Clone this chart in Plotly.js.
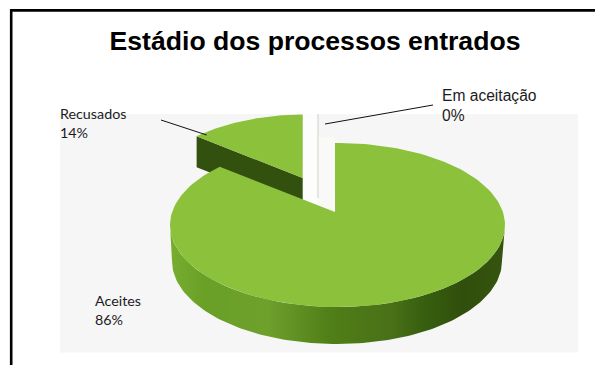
<!DOCTYPE html>
<html>
<head>
<meta charset="utf-8">
<script src="https://cdn.plot.ly/plotly-3.0.1.min.js"></script>
<style>html,body{margin:0;padding:0;background:#fff}#chart{width:595px;height:365px}</style>
</head>
<body>
<div id="chart"></div>
<script>
// Shares of incoming cases, in percent
const categories = ["Aceites", "Recusados", "Em aceitação"];
const shares = [86, 14, 0];

// Tilted disc: one axis unit equals one pixel
const face = {cx: 337.5, cy: 225, rx: 167.5, ry: 82};
const base = {cx: 337, cy: 261, rx: 165, ry: 83};
const apex = {x: 335, y: 212};
const tilt = 0.475;              // foreshortening of slice directions
const pulled = {dx: -32.3, dy: -34, scale: 0.92, depth: 31};  // the exploded slice
const gapLineX = 318;

const GREEN = "#8bc13b", DARK = "#33510e";

const total = shares.reduce((a, b) => a + b, 0);
const startOf = i => shares.slice(0, i).reduce((a, b) => a + b, 0) / total * 2 * Math.PI;

// Point where the ray from the apex at clockwise angle t leaves the face ellipse
function rim(t) {
  const dx = Math.sin(t), dy = -tilt * Math.cos(t);
  const ox = apex.x - face.cx, oy = apex.y - face.cy;
  const a = dx * dx / face.rx ** 2 + dy * dy / face.ry ** 2;
  const b = 2 * (ox * dx / face.rx ** 2 + oy * dy / face.ry ** 2);
  const c = ox * ox / face.rx ** 2 + oy * oy / face.ry ** 2 - 1;
  const s = (-b + Math.sqrt(b * b - 4 * a * c)) / (2 * a);
  return [apex.x + s * dx, apex.y + s * dy];
}
function arc(t0, t1, n) {
  const pts = [];
  for (let i = 0; i <= n; i++) pts.push(rim(t0 + (t1 - t0) * i / n));
  return pts;
}
const poly = (pts, fill, extra) => Object.assign({
  x: pts.map(p => p[0]), y: pts.map(p => p[1]),
  type: "scatter", mode: "lines", fill: "toself", fillcolor: fill,
  line: {width: 0}, hoverinfo: "skip"
}, extra || {});
const stroke = (pts, color, width) => ({
  x: pts.map(p => p[0]), y: pts.map(p => p[1]),
  type: "scatter", mode: "lines", line: {color: color, width: width}, hoverinfo: "skip"
});

// Aceites: top face from 12 o'clock clockwise
const mainEnd = startOf(1);
const mainFace = [[apex.x, apex.y], ...arc(0, mainEnd, 160)];

// Recusados: the same construction, pulled out towards the upper left
const place = p => [
  apex.x + pulled.dx + pulled.scale * (p[0] - apex.x),
  apex.y + pulled.dy + pulled.scale * (p[1] - apex.y)
];
const cutArc = arc(startOf(1), startOf(2), 40).map(place);
const cutApex = place([apex.x, apex.y]);
const cutFace = [cutApex, ...cutArc];
const cutWall = [cutArc[0], cutApex,
                 [cutApex[0], cutApex[1] + pulled.depth],
                 [cutArc[0][0], cutArc[0][1] + pulled.depth]];

// Outer wall of the disc, running round the front
const wall = [];
for (let i = 0; i <= 120; i++) {
  const a = Math.PI * i / 120;
  wall.push([base.cx - base.rx * Math.cos(a), base.cy + base.ry * Math.sin(a)]);
}
wall.push([face.cx + face.rx, face.cy]);
for (let i = 0; i <= 60; i++) {
  const a = Math.PI * i / 60;
  wall.push([face.cx + face.rx * Math.cos(a), face.cy + face.ry * Math.sin(a)]);
}

// Opening left by the zero slice, between the pulled slice and Aceites
const gapLeft = [[cutApex[0], 114], [gapLineX, 114], [gapLineX, 214], [cutApex[0], 214]];
const gapRight = [[gapLineX, 137], [apex.x, 137], [apex.x, 216], [gapLineX, 216]];

const traces = [
  poly(gapLeft, "#fdfdfd"),
  poly(gapRight, "#f9f9f8"),
  stroke([[gapLineX, 114], [gapLineX, 198]], "#d8d8cf", 1.2),
  poly(cutWall, DARK),
  poly(cutFace, GREEN),
  poly(wall, "#5b8a1e", {
    fillgradient: {
      type: "horizontal", start: 170, stop: 505,
      colorscale: [[0, "#78ad30"], [0.1, "#69a026"], [0.29, "#6ea02c"], [0.48, "#507e17"],
                   [0.66, "#4a7018"], [0.75, "#38600f"], [0.87, "#304f0c"], [1, "#35540e"]]
    }
  }),
  poly(mainFace, GREEN),
  // Leader lines of the two outer labels
  stroke([[161, 120], [206.7, 135]], "#111", 1),
  stroke([[325, 124], [433, 105]], "#111", 1)
];

const label = (i, x, y, font) => ({
  text: categories[i] + "<br>" + shares[i] + "%",
  x: x, y: y, xref: "x", yref: "y", xanchor: "left", yanchor: "top",
  align: "left", showarrow: false, font: font, borderpad: 0
});
const calibriLike = {family: "Lato, sans-serif", size: 14.3, color: "#1c1c1c"};
const arialLike = {family: "Liberation Sans, Arial, sans-serif", size: 15.6, color: "#1c1c1c"};

const layout = {
  width: 595, height: 365,
  margin: {l: 0, r: 0, t: 0, b: 0},
  paper_bgcolor: "#fff", plot_bgcolor: "#fff",
  showlegend: false,
  title: {
    text: "Estádio dos processos entrados",
    x: 315 / 595, y: 1 - 40.5 / 365, xanchor: "center", yanchor: "middle",
    font: {family: "Liberation Sans, Arial, sans-serif", size: 26.6, color: "#000", weight: 700}
  },
  xaxis: {range: [0, 595], visible: false, fixedrange: true},
  yaxis: {range: [365, 0], visible: false, fixedrange: true},
  shapes: [
    {type: "rect", layer: "below", xref: "x", yref: "y", x0: 60, x1: 578, y0: 114, y1: 352.5,
     fillcolor: "#f6f6f7", line: {width: 0}},
    {type: "line", xref: "x", yref: "y", x0: 11.2, x1: 11.2, y0: 9.5, y1: 365,
     line: {color: "#000", width: 2.6}},
    {type: "line", xref: "x", yref: "y", x0: 10, x1: 595, y0: 10.4, y1: 10.4,
     line: {color: "#000", width: 2.6}}
  ],
  annotations: [
    label(0, 94, 290.5, calibriLike),
    label(1, 58.5, 104, calibriLike),
    label(2, 440.5, 85.5, arialLike)
  ]
};

Plotly.newPlot("chart", traces, layout, {displayModeBar: false, staticPlot: true});
</script>
</body>
</html>
